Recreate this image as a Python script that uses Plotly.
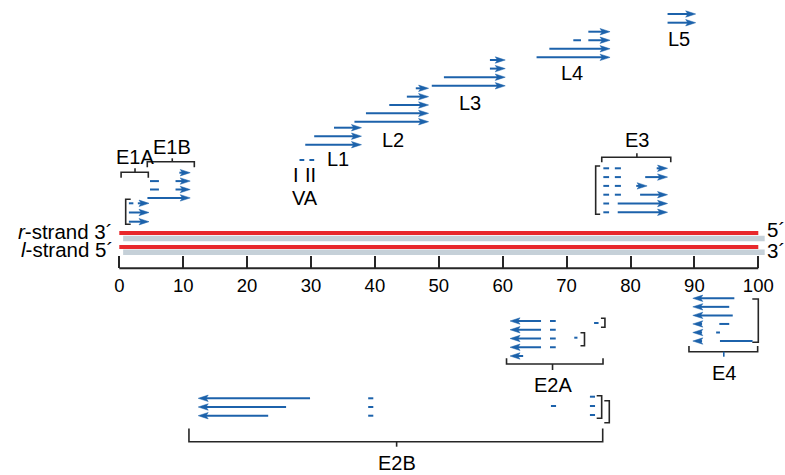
import plotly.graph_objects as go

# ---------------- data (map units, 0-100) ----------------
axis_ticks = list(range(0, 101, 10))

# rightward transcripts (r-strand): list of exon segments (start, end)
E1A = [[(1.5, 2.2), (2.9, 4.65)], [(1.5, 4.65)], [(1.5, 4.65)]]
E1B = [[(9.4, 11.1)], [(4.8, 6.2), (8.8, 11.1)], [(4.8, 6.2), (8.8, 11.1)], [(4.4, 11.1)]]
L1 = [[(33.6, 37.9)], [(30.5, 37.9)], [(29.1, 37.9)]]
L2 = [[(46.4, 48.4)], [(45.0, 48.4)], [(42.25, 48.4)], [(38.6, 48.4)], [(36.8, 48.4)]]
L3 = [[(58.0, 60.4)], [(58.0, 60.4)], [(50.8, 60.4)], [(48.9, 60.4)]]
L4 = [[(73.4, 76.8)], [(71.05, 72.25), (73.4, 76.8)], [(67.3, 76.8)], [(65.3, 76.8)]]
L5 = [[(85.8, 90.2)], [(85.8, 90.2)]]
E3 = [[(75.75, 76.65), (77.55, 78.5), (84.1, 85.8)],
      [(75.75, 76.65), (77.55, 78.5), (82.3, 85.8)],
      [(75.75, 76.65), (77.55, 78.5), (80.9, 82.6)],
      [(75.75, 76.65), (77.55, 78.5), (81.5, 85.8)],
      [(75.75, 76.65), (78.0, 85.8)],
      [(75.75, 76.65), (78.0, 85.8)]]
VA = [[(28.2, 28.95), (29.75, 30.5)]]

# leftward transcripts (l-strand)
E2A = [[(61.15, 66.0), (67.4, 68.3)]] * 4 + [[(61.15, 63.2)]]
E4 = [[(89.75, 96.25)], [(89.75, 95.45)], [(89.75, 96.0)],
      [(89.75, 91.2), (93.9, 95.45)], [(89.75, 91.2), (93.4, 94.0)],
      [(89.75, 91.2), (94.0, 99.1)]]
E2B = [[(12.35, 29.85), (38.95, 39.75)], [(12.35, 26.1), (38.95, 39.75)],
       [(12.35, 23.3), (38.95, 39.75)]]

# loose exon fragments without arrows: (start, end, row-y)
E2A_frag = [(74.3, 75.0, 323.0), (71.2, 71.7, 337.7)]
E2B_frag = [(67.55, 68.35, 406.0), (73.65, 74.45, 396.7), (73.65, 74.45, 406.0), (73.65, 74.45, 415.0)]

# region labels
region_names = ["E1A", "E1B", "E3", "E2A", "E4", "E2B"]
region_spans = [(0.28, 4.54), (4.38, 11.74), (75.5, 86.3), (60.6, 75.7), (89.15, 99.9), (10.9, 75.65)]
region_mid = [2.46, 8.29, 81.0, 67.8, 94.6, 43.4]
late_names = ["L1", "L2", "L3", "L4", "L5", "VA", "I", "II"]
late_pos = [34.3, 42.8, 54.9, 70.9, 87.6, 29.06, 27.6, 29.9]

# ---------------- layout / style ----------------
W, H = 785, 475
PX0, PX100 = 119.3, 758.3
SCALE = (PX100 - PX0) / 100.0
XMIN = -PX0 / SCALE
XMAX = XMIN + W / SCALE
AXIS_Y = 268.3


def px(n):
    return n / SCALE


BLUE = "#1c62ab"
RED = "#e8282c"
GREY = "#c5d0d8"
INK = "#262626"
FONT = "Liberation Sans, Arial, Helvetica, sans-serif"

# (transcripts, direction, first row y, row gap)
groups = [
    (E1A, 1, 203.3, 9.2), (E1B, 1, 172.7, 8.4), (L1, 1, 127.7, 8.5),
    (L2, 1, 88.3, 8.35), (L3, 1, 60.0, 8.6), (L4, 1, 31.7, 8.55),
    (L5, 1, 14.0, 8.7), (E3, 1, 168.3, 8.8), (VA, 0, 160.0, 0),
    (E2A, -1, 321.0, 8.75), (E4, -1, 298.3, 8.55), (E2B, -1, 398.3, 8.7),
]

lx, ly, hx, hy = [], [], [], []
HL, HH, HN = px(10), 3.2, px(2.2)


def add_head(tip, y, d):
    hx.extend([tip, tip - d * HL, tip - d * (HL - HN), tip - d * HL, tip, None])
    hy.extend([y, y - HH, y, y + HH, y, None])


for trs, d, y0, dy in groups:
    for i, tr in enumerate(trs):
        y = y0 + i * dy
        for j, (a, b) in enumerate(tr):
            if d == 1 and j == len(tr) - 1:
                add_head(b, y, 1)
                b = b - HL * 0.6
            if d == -1 and j == 0:
                add_head(a, y, -1)
                a = a + HL * 0.6
            if b > a:
                lx.extend([a, b, None])
                ly.extend([y, y, None])

for a, b, y in E2A_frag + E2B_frag:
    lx.extend([a, b, None])
    ly.extend([y, y, None])

# brackets
bx, by = [], []
blue_bx, blue_by = [], []
# horizontal group brackets: (y, tick dy, stem dy, label y)
hb_geom = [(172.3, 5.4, -4.0, 157), (161.7, 5.6, -3.4, 147), (157.3, 5.0, -4.0, 140),
           (364.0, -5.7, 6.0, 385), (351.7, -5.7, 5.0, 373.3), (441.7, -13.2, 5.0, 463)]
annotations = []
for name, (a, b), m, (y, t, s, lyy) in zip(region_names, region_spans, region_mid, hb_geom):
    bx.extend([a, a, b, b, None])
    by.extend([y + t, y, y, y + t, None])
    if name == "E4":
        blue_bx.extend([m, m, None]); blue_by.extend([y, y + s, None])
    else:
        bx.extend([m, m, None]); by.extend([y, y + s, None])
    annotations.append(dict(x=m, y=lyy, text=name))

# vertical side brackets: (x, y0, y1, tick length in px, +1 ticks right)
side_brackets = [(1.0, 199.3, 224.3, 5, 1), (74.55, 166.0, 214.3, 4.5, 1),
                 (76.0, 318.3, 327.3, 4, -1), (72.8, 332.7, 345.7, 4, -1),
                 (100.0, 299.0, 342.3, 6, -1), (75.49, 395.7, 418.3, 5, -1),
                 (76.68, 400.7, 422.7, 5, -1)]
for x, y0, y1, t, d in side_brackets:
    bx.extend([x + d * px(t), x, x, x + d * px(t), None])
    by.extend([y0, y0, y1, y1, None])

late_y = [159, 140, 102.7, 72.7, 39.3, 198, 175, 175]
for n, x, y in zip(late_names, late_pos, late_y):
    annotations.append(dict(x=x, y=y, text=n))

fig = go.Figure()

# DNA strands (grey shadow then red)
for yr, yg in [(233.0, 238.5), (247.0, 252.3)]:
    fig.add_trace(go.Scatter(x=[0.6, 101.0], y=[yg, yg], mode="lines",
                             line=dict(color=GREY, width=5.5), hoverinfo="skip"))
    fig.add_trace(go.Scatter(x=[0, 100], y=[yr, yr], mode="lines",
                             line=dict(color=RED, width=4), hoverinfo="skip"))

# map-unit ruler baseline
fig.add_trace(go.Scatter(x=[axis_ticks[0], axis_ticks[-1]], y=[AXIS_Y, AXIS_Y], mode="lines",
                         line=dict(color=INK, width=2), hoverinfo="skip"))

fig.add_trace(go.Scatter(x=bx, y=by, mode="lines", line=dict(color=INK, width=1.6),
                         hoverinfo="skip"))
fig.add_trace(go.Scatter(x=blue_bx, y=blue_by, mode="lines", line=dict(color=BLUE, width=1.6),
                         hoverinfo="skip"))
fig.add_trace(go.Scatter(x=lx, y=ly, mode="lines", line=dict(color=BLUE, width=2),
                         hoverinfo="skip"))
fig.add_trace(go.Scatter(x=hx, y=hy, mode="lines", fill="toself", fillcolor=BLUE,
                         line=dict(color=BLUE, width=0.5), hoverinfo="skip"))

anns = []
for a in annotations:
    anns.append(dict(x=a["x"], y=a["y"], text=a["text"], xref="x", yref="y", showarrow=False,
                     font=dict(size=20, color="black", family=FONT)))
# strand labels
anns += [
    dict(x=-0.7, y=231, text="<i>r</i>-strand 3´", xanchor="right"),
    dict(x=-0.7, y=249.5, text="<i>l</i>-strand 5´", xanchor="right"),
    dict(x=101.1, y=229, text="5´", xanchor="left"),
    dict(x=101.1, y=250, text="3´", xanchor="left"),
]
for a in anns[-4:]:
    a.update(xref="x", yref="y", showarrow=False, height=17, valign="middle",
             font=dict(size=20.5, color="black", family=FONT))

fig.update_layout(
    width=W, height=H, margin=dict(l=0, r=0, t=0, b=0, autoexpand=False), autosize=False,
    paper_bgcolor="white", plot_bgcolor="white", showlegend=False,
    xaxis=dict(range=[XMIN, XMAX], domain=[0, 1], anchor="free", position=1 - AXIS_Y / H,
               showline=False, showgrid=False, zeroline=False,
               ticks="inside", ticklen=12, tickwidth=2, tickcolor=INK,
               tickvals=axis_ticks, ticktext=[str(t) for t in axis_ticks],
               ticklabelstandoff=4,
               tickfont=dict(size=18.5, color="black", family=FONT)),
    yaxis=dict(range=[H, 0], visible=False, domain=[0, 1]),
    annotations=anns,
)

fig.write_html("out.html", config={"responsive": False, "displayModeBar": False},
               post_script="document.body.style.margin='0px';document.body.style.overflow='hidden';")
